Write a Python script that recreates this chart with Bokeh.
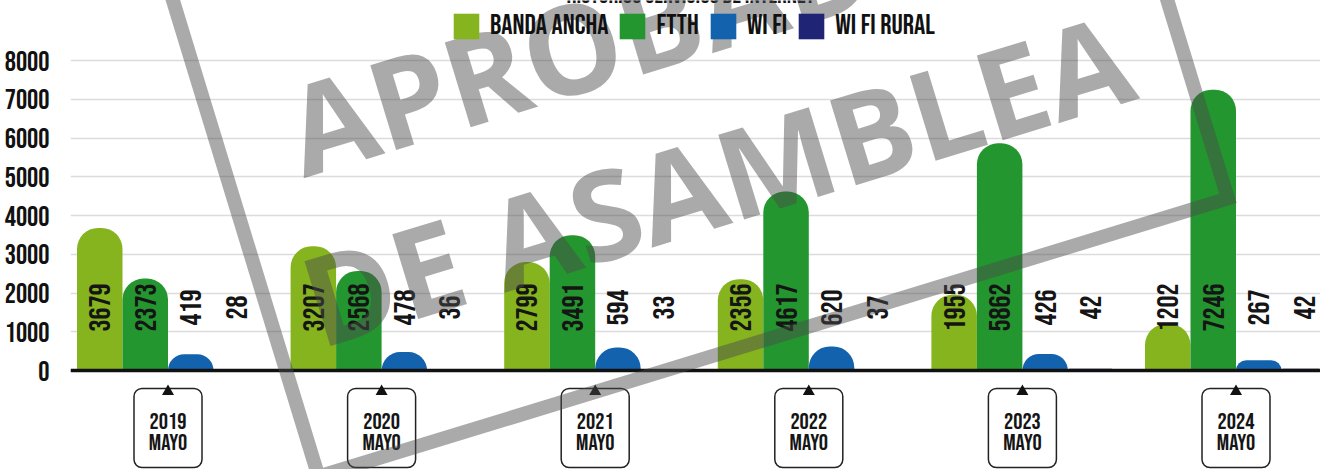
import math
from bokeh.plotting import figure
from bokeh.models import Range1d, FixedTicker, Span, Legend, LegendItem
from bokeh.core.properties import value
from bokeh.embed import file_html
from bokeh.resources import INLINE

# ---------------- data ----------------
years = ["2019", "2020", "2021", "2022", "2023", "2024"]
month = "MAYO"
banda_ancha = [3679, 3207, 2799, 2356, 1955, 1202]
ftth = [2373, 2568, 3491, 4617, 5862, 7246]
wifi = [419, 478, 594, 620, 426, 267]
wifi_rural = [28, 36, 33, 37, 42, 42]
series_names = ["BANDA ANCHA", "FTTH", "WI FI", "WI FI RURAL"]
y_ticks = [0, 1000, 2000, 3000, 4000, 5000, 6000, 7000, 8000]
title_text = "HISTORICO SERVICIOS DE INTERNET"
watermark_lines = ["APROBADO", "DE ASAMBLEA"]

# ---------------- style / layout ----------------
colors = ["#86b41e", "#24962f", "#1262ae", "#1f2474"]
FONT = "'Bebas Neue', 'Oswald', 'Roboto Condensed', sans-serif"
WM_FONT = "'Open Sans', sans-serif"
WM_COLOR = "#4a4a4c"
WM_ALPHA = 0.47

W, H = 1320, 469
FRAME_LEFT = 70
G0_PX, G_STEP_PX = 167.5, 213.6
ZERO_PY, TOP_PY, TOP_VAL = 370, 60, 8000
SY = (ZERO_PY - TOP_PY) / TOP_VAL


def px2x(px):
    return (px - G0_PX) / G_STEP_PX


def py2y(py):
    return (ZERO_PY - py) / SY


x_range = Range1d(px2x(FRAME_LEFT), px2x(W))
y_range = Range1d(py2y(H), py2y(0))

p = figure(width=W, height=H, x_range=x_range, y_range=y_range,
           output_backend="svg", toolbar_location=None,
           x_axis_location=None, y_axis_location="left",
           min_border_left=FRAME_LEFT, min_border_right=0,
           min_border_top=0, min_border_bottom=0,
           outline_line_color=None, background_fill_color="white",
           border_fill_color="white")

p.yaxis.ticker = FixedTicker(ticks=y_ticks)
p.yaxis.axis_line_color = None
p.yaxis.major_tick_line_color = None
p.yaxis.minor_tick_line_color = None
p.yaxis.major_label_standoff = 15
p.yaxis.major_label_text_font = FONT
p.yaxis.major_label_text_font_size = "28px"
p.yaxis.major_label_text_color = "#111111"
p.ygrid.grid_line_color = "#dcdcdc"
p.ygrid.grid_line_width = 1.5
p.xgrid.visible = False

idx = list(range(len(years)))
bw = 45.5 / G_STEP_PX
offsets = [-1.5 * bw, -0.5 * bw, 0.5 * bw, 1.5 * bw]
all_series = [banda_ancha, ftth, wifi, wifi_rural]
renderers = []
for k, vals in enumerate(all_series):
    xs = [i + offsets[k] for i in idx]
    r = p.vbar(x=xs, top=vals, bottom=0, width=bw, fill_color=colors[k],
               line_color=None, border_radius=(21, 21, 0, 0))
    renderers.append(r)

LABEL_Y = py2y(307)
for k, vals in enumerate(all_series):
    xs = [i + offsets[k] for i in idx]
    p.text(x=xs, y=[LABEL_Y] * len(vals), text=[str(v) for v in vals],
           angle=math.pi / 2, text_align="center", text_baseline="middle",
           text_font=value(FONT), text_font_size="30px", text_color="#151515")

p.add_layout(Span(location=0, dimension="width", line_color="#111111",
                  line_width=3.5))

box_half = 34 / G_STEP_PX
p.quad(left=[i - box_half for i in idx], right=[i + box_half for i in idx],
       bottom=py2y(467), top=py2y(388), fill_color="white",
       line_color="#222222", line_width=1.5, border_radius=8)
p.scatter(x=idx, y=[py2y(391)] * len(idx), marker="triangle", size=12,
          fill_color="#111111", line_color=None)
p.text(x=idx, y=[py2y(420)] * len(idx), text=years, text_align="center",
       text_baseline="middle", text_font=value(FONT),
       text_font_size="23px", text_color="#151515")
p.text(x=idx, y=[py2y(442)] * len(idx), text=[month] * len(idx),
       text_align="center", text_baseline="middle", text_font=value(FONT),
       text_font_size="23px", text_color="#151515")

p.text(x=[px2x(690)], y=[py2y(-5)], text=[title_text], text_align="center",
       text_baseline="middle", text_font=value(FONT),
       text_font_size="24px", text_color="#151515")

legend = Legend(items=[LegendItem(label=n, renderers=[r])
                       for n, r in zip(series_names, renderers)],
                orientation="horizontal", location=(380, 427),
                glyph_width=32, glyph_height=32, label_height=32,
                label_text_font=FONT, label_text_font_size="28px",
                label_text_color="#111111",
                label_standoff=8, spacing=8, padding=0, margin=0,
                border_line_color=None, background_fill_alpha=0)
p.add_layout(legend)

theta = math.radians(17)
up = (-math.sin(theta), -math.cos(theta))
ll = (318, 476)
edge = 951
lr = (ll[0] + edge * math.cos(theta), ll[1] - edge * math.sin(theta))
tl = (ll[0] + 600 * up[0], ll[1] + 600 * up[1])
tr = (lr[0] + 600 * up[0], lr[1] + 600 * up[1])
frame_pts = [tl, ll, lr, tr]
wm_frame = p.line(x=[px2x(a) for a, b in frame_pts],
                  y=[py2y(b) for a, b in frame_pts],
                  line_color=WM_COLOR, line_alpha=WM_ALPHA, line_width=14,
                  line_join="miter")
wm_frame.level = "overlay"
WM_SIZE = 124
base_left = [(302, 174), (318, 345)]
half_cap = 0.36 * WM_SIZE
wm_pos = [(a + up[0] * half_cap, b + up[1] * half_cap) for a, b in base_left]
wm_text = p.text(x=[px2x(a) for a, b in wm_pos], y=[py2y(b) for a, b in wm_pos],
                 text=watermark_lines, angle=theta, text_align="left",
                 text_baseline="middle", text_font=value(WM_FONT),
                 text_font_style="bold", text_font_size=f"{WM_SIZE}px",
                 text_color=WM_COLOR, text_alpha=WM_ALPHA)
wm_text.level = "overlay"

open("out.html", "w").write(file_html(p, INLINE))
